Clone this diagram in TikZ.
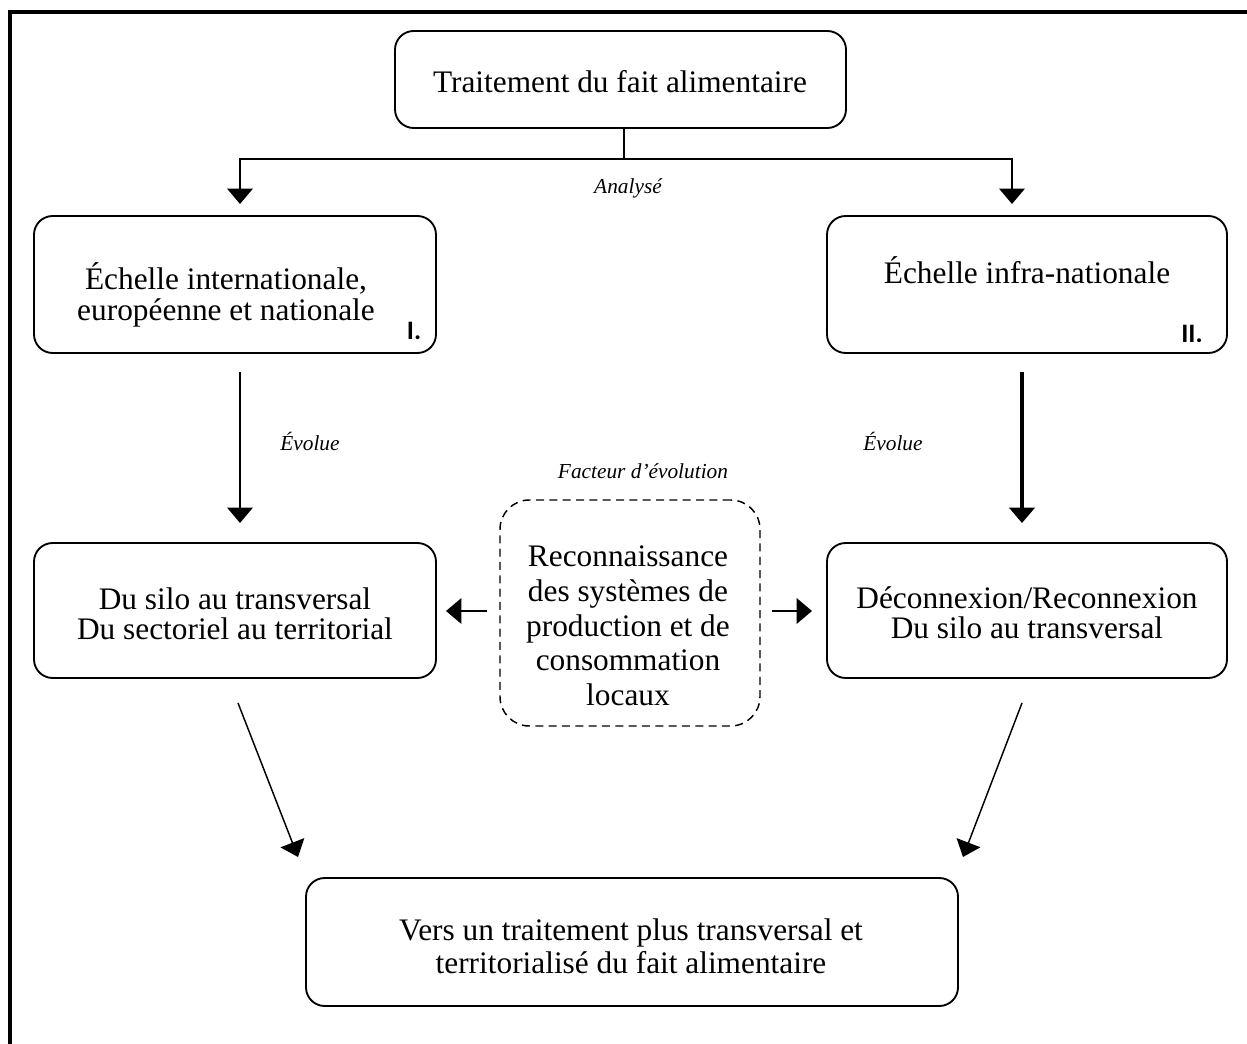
\documentclass[tikz,border=0pt]{standalone}
\usepackage{fontspec}
\setmainfont{Liberation Serif}
\setsansfont{Carlito}
\usetikzlibrary{arrows.meta}
\begin{document}
\begin{tikzpicture}[x=0.75pt,y=-0.75pt,
  rbox/.style 2 args={draw, line width=1.4pt, rounded corners=14pt,
    minimum width={#1*0.75pt}, minimum height={#2*0.75pt}, inner sep=0pt},
  dbox/.style 2 args={draw, line width=1.1pt, rounded corners=22pt,
    dash pattern=on 6pt off 4pt,
    minimum width={#1*0.75pt}, minimum height={#2*0.75pt}, inner sep=0pt},
  txt/.style={inner sep=0pt, align=center, font=\fontsize{23.5}{22.5}\selectfont},
  txtA/.style={inner sep=0pt, align=center, font=\fontsize{23.5}{23}\selectfont},
  txtB/.style={inner sep=0pt, align=center, font=\fontsize{23.5}{26}\selectfont},
  txtC/.style={inner sep=0pt, align=center, font=\fontsize{23.5}{24.5}\selectfont},
  lab/.style={inner sep=0pt, font=\fontsize{16}{19}\selectfont\itshape},
  num/.style={inner sep=0pt, font=\fontsize{20}{22}\selectfont\sffamily\bfseries},
  tip/.style={-{Triangle[width=19pt,length=11.5pt]}},
  conn/.style={line width=1.8pt},
  frame/.style={line width=2.3pt}
]
\useasboundingbox (0,0) rectangle (1247,1044);
\draw[frame] (10,1044) -- (10,12) -- (1250,12);

% boxes
\node[rbox={451}{97}] (top) at (620.5,79.5) {};
\node[rbox={402}{137}] (b1) at (235,284.5) {};
\node[rbox={400}{137}] (b2) at (1027,284.5) {};
\node[rbox={402}{135}] (m1) at (235,610.5) {};
\node[rbox={400}{135}] (m2) at (1027,610.5) {};
\node[dbox={260}{226}] (fac) at (630,613) {};
\node[rbox={652}{128}] (fin) at (632,942) {};

% texts
\node[txt] (ttop) at (620,82) {Traitement du fait alimentaire};
\node[txtA] (tb1) at (226,295) {Échelle internationale,\\européenne et nationale};
\node[num] (n1) at (414,331) {I.};
\node[txt] (tb2) at (1027,270) {Échelle infra-nationale};
\node[num] (n2) at (1192,334) {II.};
\node[lab] (l1) at (628,188) {Analysé};
\node[lab] (l2) at (310,441) {Évolue};
\node[lab] (l3) at (893,441) {Évolue};
\node[lab] (l4) at (643,471) {Facteur d’évolution};
\node[txtB] (tfac) at (628,626) {Reconnaissance\\des systèmes de\\production et de\\consommation\\locaux};
\node[txt] (tm1) at (235,614) {Du silo au transversal\\Du sectoriel au territorial};
\node[txt] (tm2) at (1027,613) {Déconnexion/Reconnexion\\Du silo au transversal};
\node[txtC] (tfin) at (631,946) {Vers un traitement plus transversal et\\territorialisé du fait alimentaire};

% connector coordinates
\coordinate (split) at (624,159);
\coordinate (ta) at (240,204);
\coordinate (tb) at (1012,204);
\coordinate (v1s) at (240,372);
\coordinate (v1e) at (240,523);
\coordinate (v2s) at (1022,372);
\coordinate (v2e) at (1022,523);
\coordinate (h1s) at (487,611);
\coordinate (h1e) at (446,611);
\coordinate (h2s) at (772,611);
\coordinate (h2e) at (812,611);
\coordinate (d1s) at (238,703);
\coordinate (d1e) at (298,857);
\coordinate (d2s) at (1022,703);
\coordinate (d2e) at (963,857);

% connectors
\draw[conn] (top.south -| split) -- (split);
\draw[conn,tip] (split) -| (ta);
\draw[conn,tip] (split) -| (tb);
\draw[line width=1.5pt,tip] (v1s) -- (v1e);
\draw[line width=2.3pt,tip] (v2s) -- (v2e);
\draw[conn,tip] (h1s) -- (h1e);
\draw[conn,tip] (h2s) -- (h2e);
\draw[line width=1.1pt,tip] (d1s) -- (d1e);
\draw[line width=1.1pt,tip] (d2s) -- (d2e);
\end{tikzpicture}
\end{document}
